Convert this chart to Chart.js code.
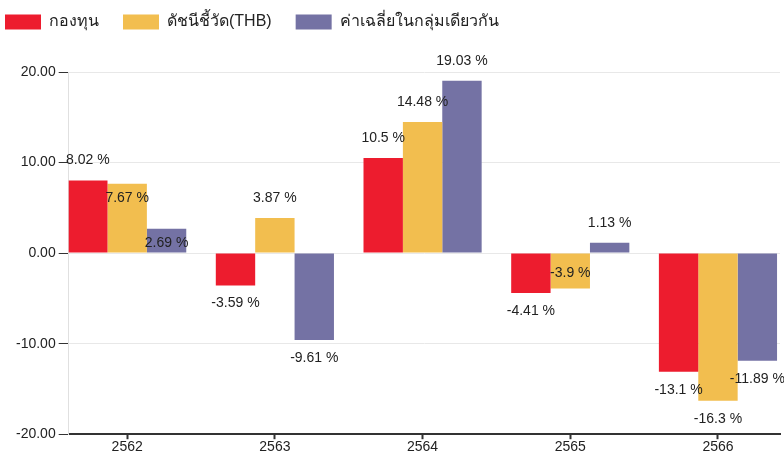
<!DOCTYPE html>
<html>
<head>
<meta charset="utf-8">
<script src="https://cdn.jsdelivr.net/npm/chart.js@4/dist/chart.umd.min.js"></script>
<style>
  html, body { margin: 0; padding: 0; background: #fff; }
  #wrap { width: 784px; height: 459px; }
</style>
</head>
<body>
<div id="wrap"><canvas id="chart"></canvas></div>
<script>
const years = ['2562', '2563', '2564', '2565', '2566'];
const fund = [8.02, -3.59, 10.5, -4.41, -13.1];
const benchmark = [7.67, 3.87, 14.48, -3.9, -16.3];
const peerAvg = [2.69, -9.61, 19.03, 1.13, -11.89];
const seriesNames = ['กองทุน', 'ดัชนีชี้วัด(THB)', 'ค่าเฉลี่ยในกลุ่มเดียวกัน'];
const yTicks = [-20, -10, 0, 10, 20];

Chart.defaults.font.family = 'Arial, "Liberation Sans", sans-serif';
Chart.defaults.font.size = 14;
Chart.defaults.color = '#222';

function points(values) {
  return values.map((v, i) => ({ x: Number(years[i]), y: v }));
}

// value labels, pushed inside the bar when they bump into an earlier one
const valueLabels = {
  id: 'valueLabels',
  afterDatasetsDraw(chart) {
    const ctx = chart.ctx;
    const placed = [];
    ctx.save();
    ctx.font = '14px Arial, "Liberation Sans", sans-serif';
    ctx.fillStyle = '#222';
    ctx.textAlign = 'center';
    ctx.textBaseline = 'middle';
    chart.data.datasets.forEach((ds, di) => {
      chart.getDatasetMeta(di).data.forEach((bar, i) => {
        const v = ds.data[i].y;
        const text = v + ' %';
        const w = ctx.measureText(text).width;
        let y = v >= 0 ? bar.y - 20 : bar.y + 18;
        const hits = (yy) => placed.some(b =>
          Math.abs(b.x - bar.x) < (b.w + w) / 2 + 2 && Math.abs(b.y - yy) < 14);
        if (hits(y)) y = v >= 0 ? bar.y + 14 : bar.y - 15;
        placed.push({ x: bar.x, y: y, w: w });
        ctx.fillText(text, bar.x, y);
      });
    });
    ctx.restore();
  }
};

const legendShift = {
  id: 'legendShift',
  afterLayout(chart) {
    chart.legend.left -= 32;
    chart.legend.top -= 32;
  }
};

new Chart(document.getElementById('chart').getContext('2d'), {
  type: 'bar',
  data: {
    datasets: [
      { label: seriesNames[0], data: points(fund), backgroundColor: '#ED1C2E' },
      { label: seriesNames[1], data: points(benchmark), backgroundColor: '#F2BE4F' },
      { label: seriesNames[2], data: points(peerAvg), backgroundColor: '#7472A4' }
    ]
  },
  options: {
    responsive: true,
    maintainAspectRatio: false,
    animation: false,
    layout: { padding: { left: 13, right: 4, top: 22, bottom: 3 } },
    datasets: { bar: { categoryPercentage: 0.8, barPercentage: 1.0, borderWidth: 0 } },
    plugins: {
      tooltip: { enabled: false },
      legend: {
        position: 'top',
        align: 'start',
        labels: {
          boxWidth: 36,
          boxHeight: 15,
          padding: 24,
          color: '#222',
          font: { size: 16 }
        }
      }
    },
    scales: {
      x: {
        type: 'linear',
        offset: false,
        min: 2561.604,
        max: 2566.42,
        afterBuildTicks(scale) {
          scale.ticks = years.map(y => ({ value: Number(y) }));
        },
        ticks: { includeBounds: false, padding: 0, callback: v => String(v), color: '#222' },
        grid: { offset: false, drawOnChartArea: false, drawTicks: true, tickLength: 5, tickWidth: 2, tickColor: '#333' },
        border: { color: '#333', width: 2 }
      },
      y: {
        min: yTicks[0],
        max: yTicks[yTicks.length - 1],
        afterBuildTicks(scale) {
          scale.ticks = yTicks.map(v => ({ value: v }));
        },
        ticks: { padding: 3, callback: v => v.toFixed(2), color: '#222' },
        grid: { color: '#e8e8e8', tickColor: '#333', tickLength: 10 },
        border: { color: '#e0e0e0' }
      }
    }
  },
  plugins: [valueLabels, legendShift]
});
</script>
</body>
</html>
